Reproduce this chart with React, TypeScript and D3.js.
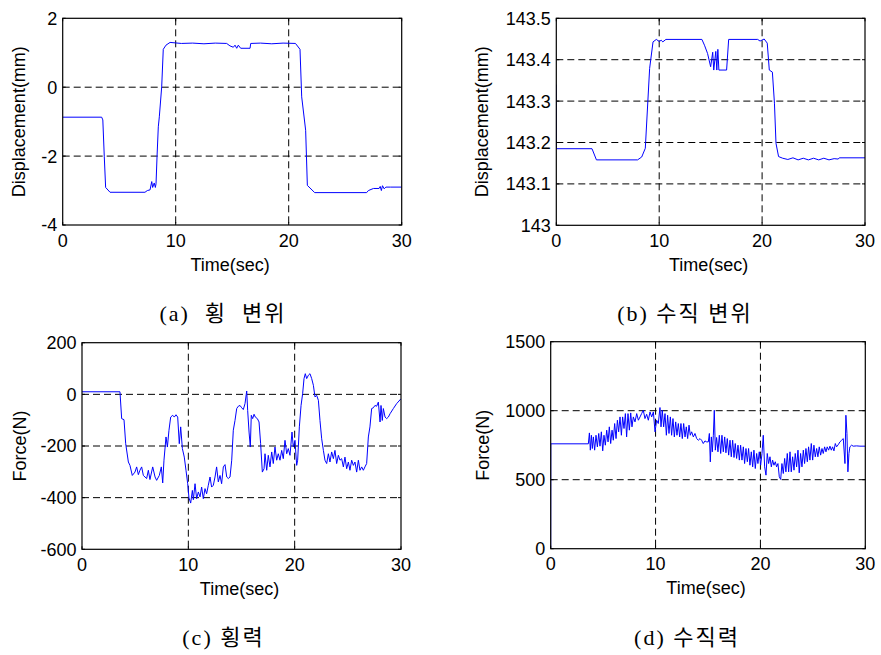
import React from 'react';
import * as d3 from 'd3';

// ---------- data ----------
const TIME_TICKS = [0, 10, 20, 30];
const TIME_DOMAIN: [number, number] = [0, 30];

// (a) lateral displacement [time(s), mm]
const latDisp: [number, number][] = [
  [0, -0.87], [3.45, -0.87], [3.55, -0.95], [3.68, -2.02], [3.8, -2.91], [4.19, -3.05],
  [7.28, -3.05], [7.49, -3.0], [7.73, -2.98], [7.88, -2.74], [7.96, -2.91], [8.1, -2.78],
  [8.2, -2.91], [8.26, -2.8], [8.35, -2.0], [8.46, -1.15], [8.55, -0.86], [8.76, 0.01],
  [8.9, 1.1], [9.14, 1.22], [9.5, 1.3], [10.5, 1.27], [11.5, 1.28], [12.5, 1.26],
  [13.5, 1.28], [14.51, 1.27], [14.8, 1.2], [15.1, 1.16], [15.25, 1.22], [15.4, 1.13],
  [15.54, 1.22], [15.75, 1.13], [16.58, 1.13], [16.64, 1.27], [17.5, 1.28], [18.5, 1.26],
  [19.5, 1.28], [20.6, 1.27], [21.0, 1.1], [21.15, -0.28], [21.5, -1.25], [21.65, -2.85],
  [22.3, -3.06], [26.9, -3.06], [27.05, -3.0], [27.5, -2.94], [28.0, -2.94], [28.1, -2.88],
  [28.2, -3.0], [28.3, -2.86], [28.45, -2.95], [28.6, -2.9], [29.0, -2.9], [30, -2.9],
];
const latDispTicks = [-4, -2, 0, 2];

// (b) vertical displacement [time(s), mm]
const vertDisp: [number, number][] = [
  [0, 143.34], [0.02, 143.185], [3.47, 143.185], [3.9, 143.158], [7.9, 143.158],
  [8.3, 143.165], [8.65, 143.186], [9.07, 143.379], [9.4, 143.443], [9.72, 143.449],
  [10.0, 143.444], [10.2, 143.447], [10.35, 143.443], [10.65, 143.449], [14.15, 143.449],
  [14.4, 143.435], [14.7, 143.415], [15.0, 143.383], [15.2, 143.418], [15.3, 143.375],
  [15.5, 143.42], [15.6, 143.375], [15.7, 143.425], [15.8, 143.375], [16.55, 143.375],
  [16.75, 143.449], [19.57, 143.449], [19.8, 143.445], [20.2, 143.45], [20.5, 143.44],
  [20.7, 143.375], [21.0, 143.37], [21.2, 143.295], [21.35, 143.198], [21.6, 143.166],
  [22.0, 143.162], [22.5, 143.159], [23.0, 143.163], [23.5, 143.158], [24.0, 143.162],
  [24.5, 143.158], [25.0, 143.162], [25.5, 143.158], [26.0, 143.162], [26.5, 143.158],
  [27.0, 143.161], [27.4, 143.16], [27.5, 143.163], [30, 143.163],
];
const vertDispTicks = [143, 143.1, 143.2, 143.3, 143.4, 143.5];

// (c) lateral force [time(s), N]
const latForce: [number, number][] = [
  [0, 10], [3.57, 10], [3.73, -94], [3.95, -98], [4.11, -191], [4.36, -262], [4.51, -275], [4.73, -314], [4.98, -301], [5.14, -281],
  [5.30, -311], [5.45, -294], [5.61, -281], [5.77, -314], [6.08, -326], [6.24, -294], [6.39, -330], [6.65, -281], [6.87, -320], [7.02, -333],
  [7.27, -314], [7.46, -281], [7.59, -343], [7.71, -255], [7.90, -165], [8.03, -204], [8.18, -139], [8.34, -88], [8.53, -81], [8.68, -88],
  [8.84, -79], [9.00, -88], [9.15, -191], [9.28, -126], [9.44, -210], [9.62, -243], [9.78, -294], [9.94, -346], [10.06, -401], [10.22, -421],
  [10.38, -372], [10.47, -408], [10.63, -346], [10.78, -404], [10.94, -378], [11.10, -397], [11.25, -359], [11.41, -404], [11.57, -365], [11.72, -385],
  [11.88, -352], [12.04, -320], [12.19, -359], [12.35, -352], [12.51, -320], [12.66, -281], [12.82, -339], [12.98, -314], [13.13, -346], [13.29, -281],
  [13.45, -272], [13.61, -320], [13.76, -326], [13.92, -320], [14.08, -255], [14.23, -139], [14.39, -101], [14.55, -55], [14.70, -46], [14.86, -43],
  [15.02, -52], [15.17, -59], [15.33, -36], [15.49, 13], [15.58, -62], [15.71, -146], [15.83, -204], [15.92, -81], [16.05, -94], [16.18, -77],
  [16.30, -88], [16.49, -94], [16.65, -107], [16.80, -191], [16.96, -301], [17.12, -288], [17.21, -230], [17.37, -294], [17.52, -236], [17.68, -281],
  [17.84, -223], [17.99, -268], [18.15, -204], [18.31, -255], [18.46, -230], [18.62, -255], [18.78, -217], [18.93, -249], [19.09, -178], [19.25, -230],
  [19.40, -210], [19.56, -236], [19.75, -146], [19.87, -204], [20.03, -178], [20.19, -275], [20.28, -255], [20.44, -126], [20.60, -43], [20.75, 3],
  [20.88, 61], [21.00, 80], [21.13, 61], [21.29, 74], [21.44, 80], [21.60, 61], [21.76, 35], [21.91, -10], [22.07, -4], [22.23, -23],
  [22.38, -101], [22.54, -172], [22.70, -217], [22.85, -255], [23.01, -268], [23.17, -230], [23.32, -262], [23.48, -223], [23.64, -249], [23.79, -217],
  [23.95, -268], [24.11, -236], [24.26, -255], [24.42, -249], [24.58, -281], [24.73, -243], [24.89, -288], [25.05, -262], [25.20, -294], [25.36, -255],
  [25.52, -275], [25.67, -262], [25.83, -301], [25.99, -255], [26.14, -294], [26.30, -281], [26.46, -294], [26.61, -281], [26.77, -268], [26.93, -165],
  [27.08, -126], [27.24, -55], [27.40, -52], [27.55, -43], [27.71, -46], [27.87, -30], [28.03, -107], [28.12, -43], [28.24, -101], [28.34, -55],
  [28.50, -88], [28.65, -94], [28.81, -88], [28.97, -75], [29.28, -55], [29.59, -36], [30.0, -17],
];
const latForceTicks = [-600, -400, -200, 0, 200];

// (d) vertical force [time(s), N]
const vertForce: [number, number][] = [
  [0, 0], [0.01, 760], [3.59, 760], [3.69, 839], [3.78, 714], [3.88, 822], [3.97, 726], [4.07, 810], [4.19, 714],
  [4.32, 822], [4.45, 738], [4.58, 835], [4.70, 743], [4.83, 847], [4.96, 709], [5.08, 822], [5.21, 750], [5.34, 859],
  [5.47, 774], [5.59, 883], [5.72, 762], [5.85, 859], [5.97, 786], [6.10, 907], [6.23, 798], [6.36, 931], [6.48, 847],
  [6.61, 955], [6.74, 822], [6.86, 955], [6.99, 871], [7.12, 979], [7.24, 810], [7.37, 979], [7.50, 859], [7.63, 984],
  [7.75, 883], [7.88, 955], [8.04, 919], [8.20, 979], [8.36, 931], [8.52, 955], [8.67, 979], [8.83, 1003], [8.99, 943],
  [9.15, 974], [9.31, 931], [9.47, 991], [9.63, 955], [9.79, 991], [9.95, 847], [10.10, 931], [10.26, 907], [10.42, 1023],
  [10.52, 883], [10.64, 1003], [10.77, 883], [10.90, 979], [11.03, 822], [11.15, 967], [11.28, 835], [11.41, 955], [11.53, 822],
  [11.66, 943], [11.79, 810], [11.92, 919], [12.04, 822], [12.17, 907], [12.30, 810], [12.42, 907], [12.55, 798], [12.68, 907],
  [12.81, 810], [12.93, 883], [13.06, 798], [13.19, 895], [13.31, 822], [13.44, 847], [13.60, 810], [13.76, 835], [13.92, 798],
  [14.08, 786], [14.24, 798], [14.39, 786], [14.55, 762], [14.71, 781], [14.87, 774], [15.03, 774], [15.13, 835], [15.22, 629],
  [15.32, 810], [15.41, 702], [15.51, 822], [15.60, 1003], [15.70, 714], [15.82, 806], [15.95, 702], [16.08, 822], [16.21, 690],
  [16.33, 822], [16.46, 702], [16.59, 810], [16.71, 695], [16.84, 798], [16.97, 678], [17.10, 786], [17.22, 666], [17.35, 786],
  [17.48, 661], [17.60, 762], [17.73, 654], [17.86, 750], [17.99, 642], [18.11, 750], [18.24, 642], [18.37, 738], [18.49, 617],
  [18.62, 726], [18.75, 630], [18.87, 726], [19.00, 605], [19.13, 702], [19.26, 593], [19.38, 714], [19.51, 581], [19.64, 690],
  [19.76, 617], [19.89, 702], [20.02, 605], [20.15, 690], [20.27, 822], [20.40, 593], [20.53, 533], [20.65, 690], [20.78, 617],
  [20.91, 666], [21.04, 593], [21.16, 642], [21.29, 605], [21.42, 630], [21.54, 593], [21.67, 617], [21.80, 521], [21.93, 502],
  [22.05, 617], [22.18, 545], [22.31, 654], [22.43, 557], [22.56, 690], [22.69, 557], [22.82, 702], [22.94, 557], [23.07, 666],
  [23.20, 569], [23.32, 690], [23.45, 593], [23.58, 714], [23.70, 550], [23.83, 690], [23.96, 593], [24.09, 714], [24.21, 617],
  [24.34, 726], [24.47, 630], [24.59, 738], [24.72, 642], [24.85, 762], [24.98, 642], [25.10, 750], [25.23, 666], [25.36, 726],
  [25.48, 666], [25.61, 738], [25.74, 678], [25.87, 726], [25.99, 690], [26.12, 738], [26.25, 702], [26.37, 738], [26.50, 714],
  [26.63, 743], [26.76, 714], [26.88, 738], [27.01, 709], [27.14, 762], [27.26, 738], [27.45, 757], [27.58, 774], [27.74, 786],
  [27.90, 798], [28.06, 617], [28.15, 967], [28.25, 835], [28.34, 557], [28.44, 690], [28.53, 738], [28.69, 750], [28.85, 743],
  [29.17, 745], [29.49, 743], [30.0, 743],
];
const vertForceTicks = [0, 500, 1000, 1500];

const X_TITLE = 'Time(sec)';
const CAPTIONS = ['(a)  횡  변위', '(b) 수직 변위', '(c) 횡력', '(d) 수직력'];
const Y_TITLES = ['Displacement(mm)', 'Displacement(mm)', 'Force(N)', 'Force(N)'];

// ---------- components ----------
const AX_FONT = '"Liberation Sans", Arial, sans-serif';
const CAP_FONT = '"Liberation Serif", "Noto Sans CJK KR", serif';

type PanelProps = {
  id: string;
  x0: number; x1: number; y0: number; y1: number;
  data: [number, number][];
  yTicks: number[];
  yTitle: string;
  yTitleX: number;
  caption: string;
  captionX: number;
  captionY: number;
};

function Panel(p: PanelProps) {
  const xs = d3.scaleLinear().domain(TIME_DOMAIN).range([p.x0, p.x1]);
  const yDom = d3.extent(p.yTicks) as [number, number];
  const ys = d3.scaleLinear().domain(yDom).range([p.y1, p.y0]);
  const line = d3.line<[number, number]>().x(d => xs(d[0])).y(d => ys(d[1]));
  const innerX = TIME_TICKS.filter(t => t > TIME_DOMAIN[0] && t < TIME_DOMAIN[1]);
  const innerY = p.yTicks.filter(t => t > yDom[0] && t < yDom[1]);
  const fmt = (v: number) => String(Math.round(v * 1000) / 1000);
  const tl = 3;
  return (
    <g>
      <defs>
        <clipPath id={p.id}>
          <rect x={p.x0} y={p.y0} width={p.x1 - p.x0} height={p.y1 - p.y0} />
        </clipPath>
      </defs>
      <rect x={p.x0} y={p.y0} width={p.x1 - p.x0} height={p.y1 - p.y0} fill="#fff" />
      {innerX.map(t => (
        <line key={'gx' + t} x1={xs(t)} x2={xs(t)} y1={p.y0} y2={p.y1}
          stroke="#000" strokeWidth={1} strokeDasharray="7,4" />
      ))}
      {innerY.map(t => (
        <line key={'gy' + t} x1={p.x0} x2={p.x1} y1={ys(t)} y2={ys(t)}
          stroke="#000" strokeWidth={1} strokeDasharray="7,4" />
      ))}
      <path d={line(p.data) || ''} fill="none" stroke="#0000ff" strokeWidth={1}
        clipPath={`url(#${p.id})`} strokeLinejoin="round" />
      {TIME_TICKS.map(t => (
        <g key={'tx' + t}>
          <line x1={xs(t)} x2={xs(t)} y1={p.y1} y2={p.y1 - tl} stroke="#000" />
          <line x1={xs(t)} x2={xs(t)} y1={p.y0} y2={p.y0 + tl} stroke="#000" />
          <text x={xs(t)} y={p.y1 + 21.5} textAnchor="middle" fontSize={18} fontFamily={AX_FONT}>{t}</text>
        </g>
      ))}
      {p.yTicks.map(t => (
        <g key={'ty' + t}>
          <line x1={p.x0} x2={p.x0 + tl} y1={ys(t)} y2={ys(t)} stroke="#000" />
          <line x1={p.x1} x2={p.x1 - tl} y1={ys(t)} y2={ys(t)} stroke="#000" />
          <text x={p.x0 - 5.5} y={ys(t)} dy="0.36em" textAnchor="end" fontSize={18} fontFamily={AX_FONT}>{fmt(t)}</text>
        </g>
      ))}
      <rect x={p.x0} y={p.y0} width={p.x1 - p.x0} height={p.y1 - p.y0} fill="none" stroke="#000" strokeWidth={1.2} />
      <text x={(p.x0 + p.x1) / 2 - 2} y={p.y1 + 45.5} textAnchor="middle" fontSize={18} fontFamily={AX_FONT}>{X_TITLE}</text>
      <text transform={`translate(${p.yTitleX},${(p.y0 + p.y1) / 2}) rotate(-90)`} textAnchor="middle"
        fontSize={18} fontFamily={AX_FONT}>{p.yTitle}</text>
      <text x={p.captionX} y={p.captionY} textAnchor="middle" fontSize={22} fontFamily={CAP_FONT}
        letterSpacing={2} style={{ whiteSpace: 'pre' }}>{p.caption}</text>
    </g>
  );
}

export default function App() {
  return (
    <svg width={881} height={655} viewBox="0 0 881 655"
      style={{ position: 'absolute', left: 0, top: 0, display: 'block', background: '#fff' }}>
      <rect x={0} y={0} width={881} height={655} fill="#fff" />
      <Panel id="ca" x0={62.7} x1={401.7} y0={18.3} y1={225} data={latDisp} yTicks={latDispTicks}
        yTitle={Y_TITLES[0]} yTitleX={25} caption={CAPTIONS[0]} captionX={223} captionY={321} />
      <Panel id="cb" x0={556.3} x1={865} y0={18.3} y1={225.3} data={vertDisp} yTicks={vertDispTicks}
        yTitle={Y_TITLES[1]} yTitleX={488} caption={CAPTIONS[1]} captionX={685} captionY={321} />
      <Panel id="cc" x0={82} x1={401} y0={342.7} y1={549.3} data={latForce} yTicks={latForceTicks}
        yTitle={Y_TITLES[2]} yTitleX={26} caption={CAPTIONS[2]} captionX={223.5} captionY={645} />
      <Panel id="cd" x0={550.7} x1={865.3} y0={341.7} y1={548.7} data={vertForce} yTicks={vertForceTicks}
        yTitle={Y_TITLES[3]} yTitleX={489} caption={CAPTIONS[3]} captionX={687} captionY={645} />
    </svg>
  );
}
